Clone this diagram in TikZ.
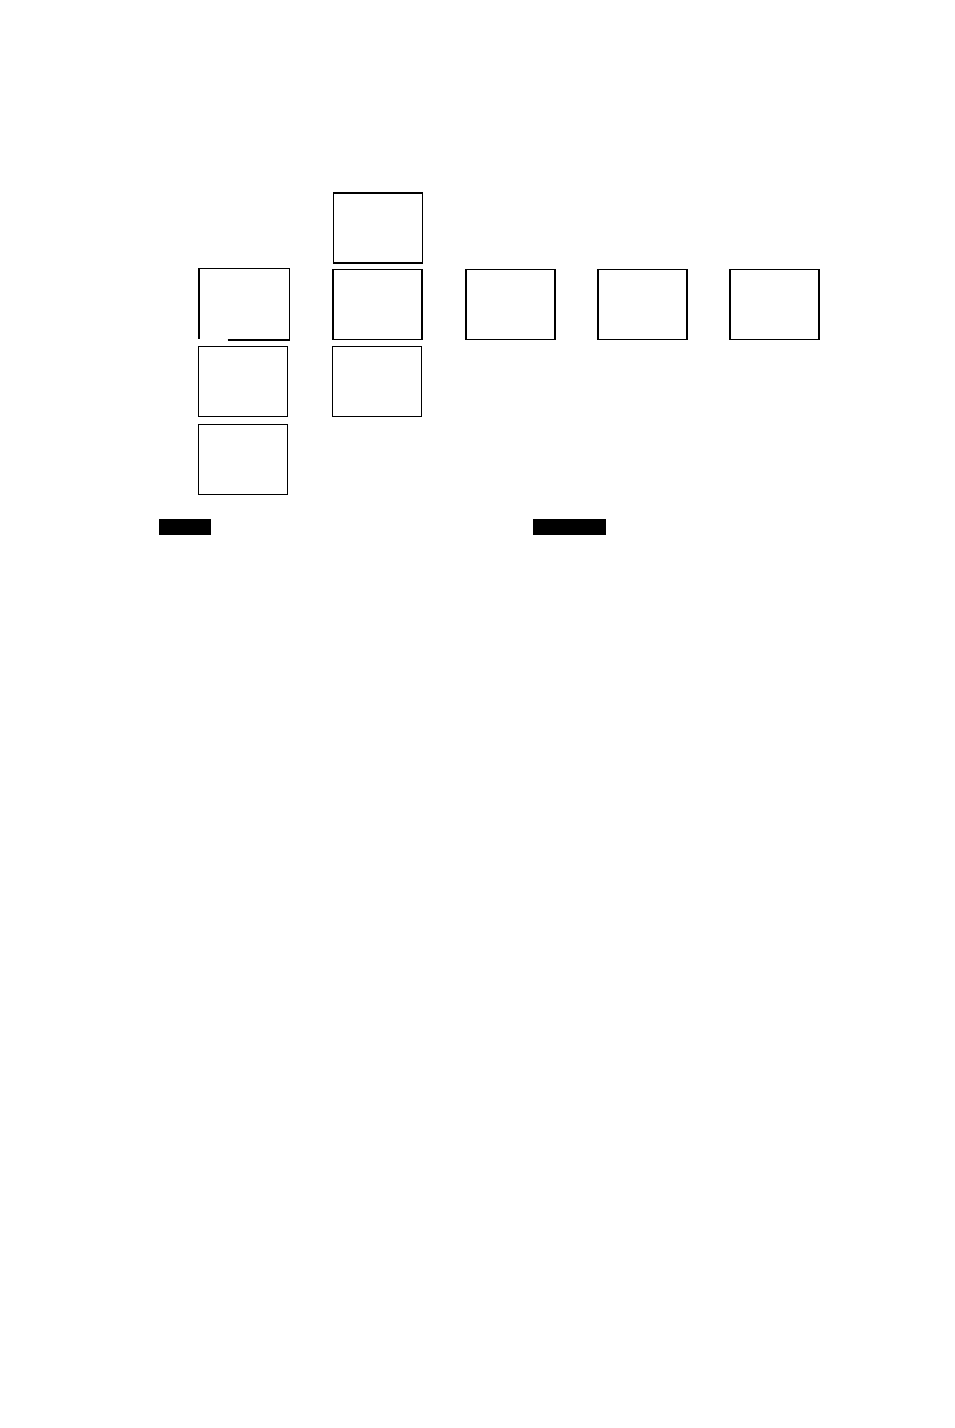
\documentclass[tikz,border=0pt]{standalone}
\usepackage{xcolor}

\begin{document}
\begin{tikzpicture}[x=0.75pt,y=-0.75pt,
    cell/.style={draw,line width=0.9pt,inner sep=0pt,minimum width=66.75pt,minimum height=52.5pt},
    blot/.style={fill=black,inner sep=0pt,minimum height=12pt}]
    \useasboundingbox (0,0) rectangle (954,1428);
    \node[cell] (top) at (378,228) {};
    \node[cell,draw=none] (r2a) at (244,304.3) {};
    \node[cell] (r2b) at (377.5,304.3) {};
    \node[cell] (r2c) at (510.5,304.3) {};
    \node[cell] (r2d) at (642.5,304.3) {};
    \node[cell] (r2e) at (774.5,304.3) {};
    \node[cell] (r3a) at (243.3,381.3) {};
    \node[cell] (r3b) at (377,381.3) {};
    \node[cell] (r4a) at (243.3,459.7) {};
    % box with a broken corner
    \draw[line width=0.9pt] ([xshift=21.5pt]r2a.south west) -- (r2a.south east) -- (r2a.north east)
        -- (r2a.north west) -- ([yshift=0.75pt]r2a.south west);
    \node[blot,minimum width=39pt] (l1) at (185,527) {};
    \node[blot,minimum width=54.75pt] (l2) at (569.5,527) {};
\end{tikzpicture}
\end{document}
